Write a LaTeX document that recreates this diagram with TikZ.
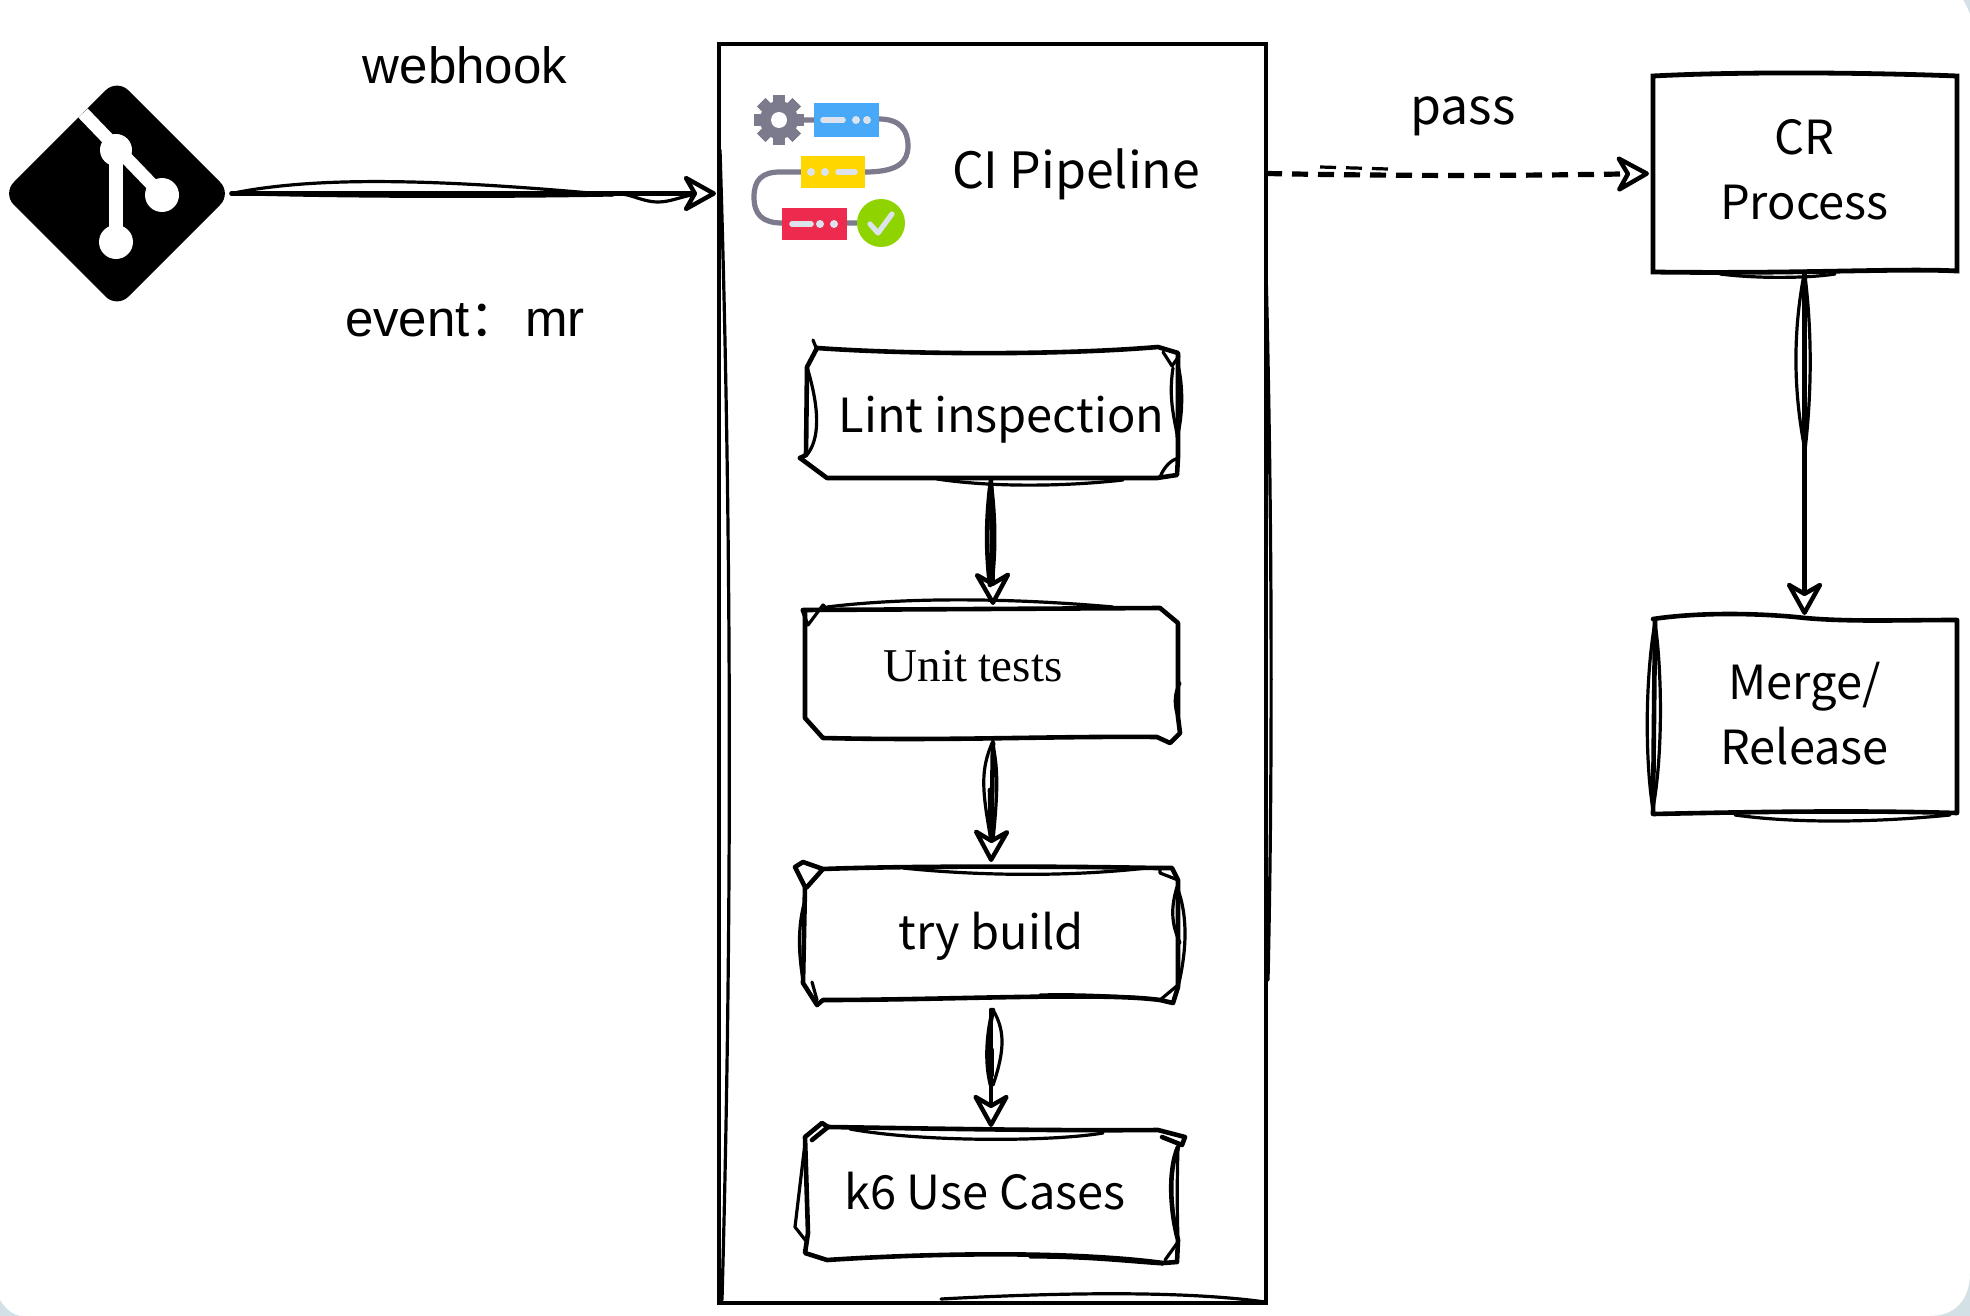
\documentclass[tikz,border=0pt]{standalone}
\usepackage{fontspec}
\usetikzlibrary{arrows.meta,shapes.geometric,calc}
\setmainfont{Liberation Sans}
\newfontfamily\cjkf{Noto Sans CJK SC}
\newfontfamily\timesf{Liberation Serif}
\definecolor{cornerc}{HTML}{D3E0E5}
\definecolor{gearc}{HTML}{7B7B8D}
\definecolor{lightbar}{HTML}{DCE3EC}
\definecolor{iblue}{HTML}{47A9F7}
\definecolor{iyellow}{HTML}{FFD600}
\definecolor{ired}{HTML}{EE2B4E}
\definecolor{igreen}{HTML}{8FD400}
\newcommand{\shiftdown}[2]{\raisebox{#1}[\height][\depth]{#2}}
\newcommand{\twolines}[3]{\raisebox{#1}[\height][\depth]{\parbox{140pt}{\centering #2\\#3}}}
\tikzset{
  sk/.style={draw=black,line width=2.3pt,line cap=round,line join=round},
  skt/.style={draw=black,line width=1.6pt,line cap=round,line join=round},
  skb/.style={draw=black,line width=2.4pt,line cap=round,line join=miter},
  tip/.style={-{Stealth[open,length=19pt,width=21pt,inset=6pt,round,line width=2.2pt]}},
  boxn/.style 2 args={minimum width=#1*0.5pt,minimum height=#2*0.5pt,inner sep=0pt,outer sep=0pt},
  cjktxt/.style={font=\cjkf\fontsize{23.5}{32.5}\selectfont,align=center,text=black},
  cjkbig/.style={font=\cjkf\fontsize{25}{32.5}\selectfont,text=black,inner sep=0pt},
  lattxt/.style={font=\fontsize{25.5}{30}\selectfont,inner sep=0pt,text=black},
  ibar/.style={line width=2.8pt,draw=lightbar,line cap=round},
  idot/.style={fill=lightbar},
  gline/.style={draw=gearc,line width=2.6pt},
}
\begin{document}
\begin{tikzpicture}[x=0.5pt,y=-0.5pt]
\useasboundingbox (0,0) rectangle (1970,1316);
\fill[white] (0,0) rectangle (1970,1316);
\fill[cornerc] (1970,1273) .. controls (1970,1300) and (1955,1316) .. (1930,1316) -- (1970,1316) -- cycle;
\fill[cornerc] (0,1300) .. controls (6,1310) and (14,1316) .. (23,1316) -- (0,1316) -- cycle;
\fill[cornerc] (1963,0) .. controls (1966,4) and (1968,9) .. (1970,14) -- (1970,0) -- cycle;
% nodes
\node[diamond,fill=black,aspect=1,rounded corners=8pt,inner sep=0pt,outer sep=0pt,minimum width=114.5pt,minimum height=114.5pt] (git) at (117,193.5) {};
\node[boxn={547}{1259}] (ci) at (992.5,673.5) {};
\node[boxn={374}{132},cjktxt] (lint) at (991,414) {\shiftdown{-2.6pt}{\kern10.5pt Lint inspection}};
\node[boxn={376}{134},font=\timesf\fontsize{23.5}{30}\selectfont] (unit) at (993,674) {\shiftdown{4pt}{Unit tests\kern20pt}};
\node[boxn={378}{132},cjktxt] (try) at (991,934) {\shiftdown{-1.25pt}{try build}};
\node[boxn={378}{134},cjktxt] (k6) at (991,1195) {\shiftdown{1.8pt}{k6 Use Cases\kern6pt}};
\node[boxn={305}{197},cjktxt] (cr) at (1804.5,173.5) {\twolines{1.9pt}{CR}{Process}};
\node[boxn={305}{198},cjktxt] (merge) at (1804.5,716) {\twolines{1.2pt}{Merge/}{Release}};
\node[lattxt] (webhook) at (465,65) {webhook};
\node[lattxt] (event) at (465,320) {event{\cjkf：}\kern2.3pt mr};
\node[cjkbig] (cilabel) at (1076,174) {CI Pipeline};
\node[cjkbig] (pass) at (1463,116) {pass};
% git logo
\draw[white,line width=6.5pt] (83,113) -- (162,195);
\draw[white,line width=7pt] (116,150) -- (116,242);
\fill[white] (116,150) circle (16) (162,195) circle (17) (116,242) circle (17);
% CI icon
\draw[gline] (779,120) -- (814,120) (879,119) .. controls (900,119) and (908,130) .. (908,146) .. controls (908,162) and (898,172) .. (865,172) (801,172) -- (780,172) .. controls (762,172) and (754,180) .. (754,197) .. controls (754,214) and (762,223) .. (782,223) (847,223) -- (881,223);
\foreach \a in {0,45,...,315} {\fill[gearc,rotate around={\a:(779,120)}] (773,95) rectangle (785,145);}
\fill[gearc] (779,120) circle (19);
\fill[white] (779,120) circle (8);
\fill[iblue] (814,103) rectangle (879,137);
\fill[iyellow] (801,156) rectangle (865,188);
\fill[ired] (782,208) rectangle (847,240);
\fill[igreen] (881,223) circle (24);
\draw[lightbar,line width=2.6pt,line cap=round,line join=round] (870,224) -- (878,233) -- (892,214);
\draw[ibar] (823,120) -- (843,120);
\fill[idot] (856,120) circle (4) (867,120) circle (4);
\fill[idot] (811,172) circle (4) (825,172) circle (4);
\draw[ibar] (838,172) -- (855,172);
\draw[ibar] (792,224) -- (811,224);
\fill[idot] (820,224) circle (4) (834,224) circle (4);
% CI box outline
\draw[skb] (719,44) -- (1266,44) -- (1266,1303) -- (719,1303) -- cycle;
\draw[skt] (720,150) .. controls (731,500) and (733,900) .. (722,1300);
\draw[skt] (1266,270) .. controls (1273,550) and (1272,800) .. (1268,980);
\draw[skt] (941,1299) .. controls (1050,1293) and (1180,1290) .. (1265,1302);
% Lint box
\draw[sk] (817,348) .. controls (900,354) and (1050,356) .. (1158,347) -- (1178,353) -- (1178,457) -- (1177,475) -- (1157,478) -- (827,478) -- (800,458);
\draw[sk] (817,348) -- (807,367) -- (806,455) -- (800,458);
\draw[skt] (813,340) -- (817,350);
\draw[skt] (807,367) .. controls (820,410) and (820,440) .. (806,456);
\draw[skt] (937,479) .. controls (990,487) and (1060,487) .. (1123,480);
\draw[skt] (1173,368) .. controls (1168,400) and (1175,420) .. (1178,440);
\draw[skt] (1178,365) .. controls (1184,390) and (1182,420) .. (1177,437);
\draw[skt] (1163,352) -- (1172,366) -- (1179,356);
\draw[skt] (1160,477) .. controls (1165,465) and (1172,460) .. (1178,458);
% Unit box
\draw[sk] (803,610) -- (1160,608) -- (1178,623) -- (1178,717) -- (1180,733) -- (1170,743) -- (1157,737) .. controls (1050,736) and (950,741) .. (823,738) -- (805,718) -- (805,613);
\draw[skt] (802,610) -- (808,625) -- (823,605) -- (826,608);
\draw[skt] (827,607) .. controls (900,598) and (1000,597) .. (1113,607);
\draw[skt] (1180,683) .. controls (1173,695) and (1175,708) .. (1178,717);
% Try box
\draw[sk] (823,869) .. controls (900,866) and (1050,866) .. (1157,868) -- (1172,868) -- (1178,880) -- (1178,987) -- (1173,1003) -- (1160,1000) .. controls (1100,992) and (950,1000) .. (823,1000) -- (817,1005) -- (803,983) -- (805,887) -- (795,867) -- (803,862) -- (823,869) -- (807,887);
\draw[skt] (903,868) .. controls (940,872) and (1040,880) .. (1147,868);
\draw[skt] (1160,868) -- (1160,873) -- (1178,880);
\draw[skt] (1177,887) .. controls (1170,910) and (1172,925) .. (1180,943);
\draw[skt] (1177,887) .. controls (1188,915) and (1187,950) .. (1178,987);
\draw[skt] (1178,985) -- (1160,1000);
\draw[skt] (805,900) .. controls (798,925) and (798,950) .. (803,980);
\draw[skt] (812,982) -- (817,1000);
\draw[skt] (1040,995) .. controls (1080,994) and (1110,996) .. (1145,998);
% k6 box
\draw[sk] (828,1127) .. controls (900,1128) and (1050,1131) .. (1158,1130) -- (1185,1137) -- (1182,1145) -- (1162,1137);
\draw[sk] (1178,1147) .. controls (1168,1170) and (1170,1210) .. (1178,1240) -- (1177,1262) -- (1163,1263) .. controls (1080,1252) and (950,1252) .. (827,1260) -- (805,1253) -- (808,1233) -- (805,1137) -- (822,1123) -- (828,1127) -- (812,1140);
\draw[skt] (850,1129) .. controls (920,1142) and (1050,1142) .. (1103,1133);
\draw[skt] (1178,1147) .. controls (1177,1180) and (1177,1210) .. (1178,1240);
\draw[skt] (1178,1242) -- (1165,1260);
\draw[skt] (805,1143) -- (795,1227) -- (806,1241);
\draw[skt] (1030,1257) .. controls (1090,1257) and (1130,1262) .. (1163,1264);
% CR box
\draw[skb] (1653,76) .. controls (1750,71) and (1880,73) .. (1957,76) -- (1957,271) .. controls (1900,268) and (1800,274) .. (1653,272) -- cycle;
\draw[skt] (1720,274) .. controls (1760,279) and (1810,278) .. (1835,274);
% Merge box
\draw[sk] (1653,619) .. controls (1700,612) and (1760,613) .. (1805,618) .. controls (1850,622) and (1900,620) .. (1957,620) -- (1957,813) .. controls (1850,810) and (1750,812) .. (1653,814) -- (1655,620);
\draw[skt] (1655,622) .. controls (1663,680) and (1662,760) .. (1653,808);
\draw[skt] (1655,622) .. controls (1645,680) and (1645,760) .. (1653,810);
\draw[skt] (1735,815) .. controls (1800,824) and (1880,822) .. (1950,815);
% connectors
\draw[sk,tip,shorten >=1.5pt] (git.east) -- (ci.west |- git.east);
\draw[skt] (git.east) .. controls (320,175) and (450,180) .. (612,195);
\draw[skt] (git.east) .. controls (350,197) and (500,197) .. (612,195);
\draw[skt] (612,195) .. controls (625,190) and (640,202) .. (658,202) .. controls (670,202) and (680,197) .. (692,195);
\draw[sk,tip,shorten <=2pt,shorten >=1pt] (lint.south) -- (unit.north);
\draw[sk] (lint.south) .. controls (986,520) and (986,550) .. (990,585);
\draw[skt] (lint.south) .. controls (996,520) and (996,550) .. (992,585);
\draw[sk,tip,shorten <=1pt,shorten >=3pt] (unit.south) -- (try.north);
\draw[skt] (unit.south) .. controls (980,770) and (982,790) .. (991,840);
\draw[sk] (990,790) -- (991,840);
\draw[skt] (993,745) .. controls (998,770) and (998,790) .. (993,840);
\draw[sk,tip,shorten <=5pt,shorten >=0.5pt] (try.south) -- (k6.north);
\draw[skt] (993,1010) .. controls (1005,1030) and (1005,1050) .. (993,1085);
\draw[sk] (993,1010) .. controls (986,1040) and (986,1065) .. (991,1085);
\draw[line width=3pt,line cap=round] (991,1050) -- (991,1075);
\draw[sk,tip,dash pattern=on 8pt off 5pt,line width=2.6pt,line cap=butt,shorten >=1.5pt] (ci.east |- cr.west) .. controls (1400,176) and (1500,176) .. (cr.west);
\draw[skt,dash pattern=on 8pt off 5pt,line cap=butt] (1320,167) -- (1388,169);
\draw[sk,tip,shorten >=1pt] (cr.south) -- (merge.north);
\draw[skt] (cr.south) .. controls (1793,330) and (1793,390) .. (1805,450);
\draw[skt] (cr.south) .. controls (1812,330) and (1812,390) .. (1805,450);
\end{tikzpicture}
\end{document}
